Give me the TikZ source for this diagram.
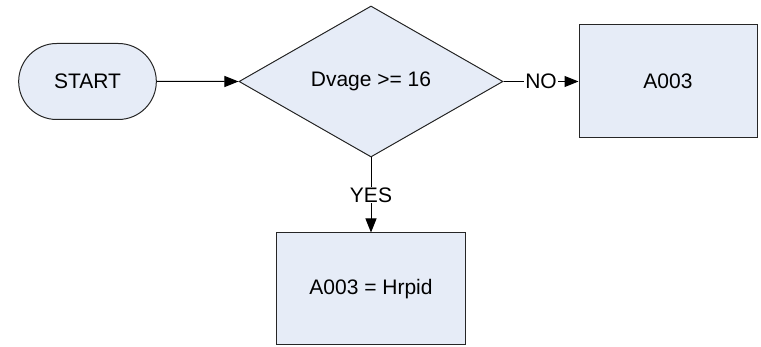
\documentclass[tikz,border=0pt]{standalone}
\usepackage{fontspec}
\setmainfont{Liberation Sans}
\usetikzlibrary{arrows.meta,shapes.geometric,shapes.misc}
\definecolor{boxfill}{RGB}{230,236,247}

\begin{document}
\begin{tikzpicture}[x=0.5pt,y=0.5pt,>={Triangle[length=7pt,width=5.5pt]},
line width=0.5pt,font=\fontsize{10.5}{12.6}\selectfont,
start node/.style={rounded rectangle,draw=black!85,fill=boxfill,minimum width=75.5pt,minimum height=38pt},
test node/.style={diamond,aspect=1.75,draw=black!85,fill=boxfill,minimum width=132pt,minimum height=75.5pt,inner sep=0pt},
act node/.style={rectangle,draw=black!85,fill=boxfill,minimum width=89pt,minimum height=56.5pt},
lbl/.style={fill=white,inner sep=0.5pt}]
\useasboundingbox (0,0) rectangle (761,-347);
\node[start node] (start) at (87.5,-81.5) {START};
\node[test node] (test) at (371,-81.5) {Dvage >= 16};
\node[act node] (no) at (668,-81.5) {A003};
\node[act node, minimum width=94.5pt, minimum height=56pt] (yes) at (371,-289) {A003 = Hrpid};
\draw[->] (start) -- (test);
\draw[->] (test) -- node[lbl] {NO} (no);
\draw[->] (test) -- node[lbl] {YES} (yes);
\end{tikzpicture}
\end{document}
